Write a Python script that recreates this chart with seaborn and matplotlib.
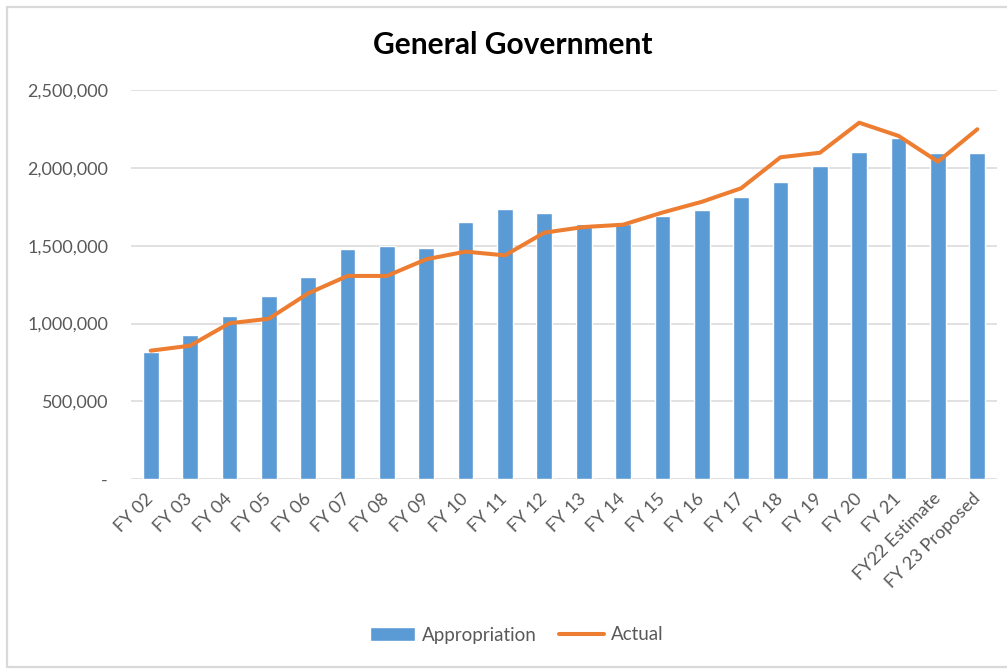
import matplotlib
matplotlib.use('Agg')
import matplotlib.pyplot as plt
import matplotlib.ticker as mticker
from matplotlib.lines import Line2D
import seaborn as sns
import pandas as pd
import numpy as np

years = ["FY 02", "FY 03", "FY 04", "FY 05", "FY 06", "FY 07", "FY 08", "FY 09",
         "FY 10", "FY 11", "FY 12", "FY 13", "FY 14", "FY 15", "FY 16", "FY 17",
         "FY 18", "FY 19", "FY 20", "FY 21", "FY22 Estimate", "FY 23 Proposed"]
appropriation = [819000, 925000, 1049000, 1179000, 1297000, 1477000, 1498000, 1483000,
                 1654000, 1738000, 1710000, 1641000, 1638000, 1691000, 1731000, 1813000,
                 1911000, 2012000, 2102000, 2192000, 2096000, 2096000]
actual = [826000, 858000, 1002000, 1031000, 1194000, 1306000, 1306000, 1413000,
          1462000, 1438000, 1584000, 1620000, 1635000, 1713000, 1782000, 1869000,
          2068000, 2097000, 2290000, 2205000, 2040000, 2248000]

df = pd.DataFrame({"year": years, "Appropriation": appropriation, "Actual": actual})

sns.set_style("white")
plt.rcParams['font.family'] = ['Lato', 'DejaVu Sans']

bar_color = "#5B9BD5"
line_color = "#ED7D31"
grey = "#595959"

fig = plt.figure(figsize=(10.07, 6.69), dpi=100)
ax = fig.add_axes([131 / 1007, 189.7 / 669, (997 - 131) / 1007, (479.3 - 90) / 669])

sns.barplot(data=df, x="year", y="Appropriation", color=bar_color, width=0.4,
            saturation=1, ax=ax, label="Appropriation", zorder=2)
sns.lineplot(x=np.arange(len(years)), y=df["Actual"], color=line_color, linewidth=2.9,
             ax=ax, label="Actual", zorder=3)

ax.set_ylim(0, 2500000)
ax.set_xlim(-0.5, len(years) - 0.5)
ax.yaxis.set_major_locator(mticker.MultipleLocator(500000))
ax.yaxis.set_major_formatter(mticker.FuncFormatter(lambda v, p: "-" if v == 0 else f"{v:,.0f}"))
ax.grid(axis="y", color="#D9D9D9", linewidth=1.1, zorder=0)
ax.set_axisbelow(True)
for s in ax.spines.values():
    s.set_visible(False)
ax.set_xlabel("")
ax.set_ylabel("")
ax.tick_params(axis="y", length=0, pad=16.5, labelsize=13, labelcolor=grey)
ax.tick_params(axis="x", length=0, pad=12, labelsize=13, labelcolor=grey)
ax.set_xticks(range(len(years)))
ax.set_xticklabels(years, rotation=45, ha="right", va="center", rotation_mode="anchor")

ax.get_legend().remove()
handles, labels = ax.get_legend_handles_labels()
order = [labels.index("Appropriation"), labels.index("Actual")]
fig.legend([handles[i] for i in order], [labels[i] for i in order], loc="center",
           bbox_to_anchor=(517 / 1007, 1 - 635 / 669),
           ncol=2, frameon=False, fontsize=13.5, labelcolor=grey,
           handlelength=2.4, handleheight=0.7, columnspacing=1.2, handletextpad=0.35)

fig.text(513 / 1007, 1 - 45 / 669, "General Government", ha="center", va="center",
         fontsize=21.5, fontweight="bold", color="black")

# chart frame: left, top and bottom edges (right edge is cropped off)
border = dict(color="#D9D9D9", linewidth=1.6, transform=fig.transFigure)
fig.lines.append(Line2D([7 / 1007, 7 / 1007], [1 - 7 / 669, 1 - 667 / 669], **border))
fig.lines.append(Line2D([7 / 1007, 1.0], [1 - 7 / 669, 1 - 7 / 669], **border))
fig.lines.append(Line2D([7 / 1007, 1.0], [1 - 667 / 669, 1 - 667 / 669], **border))

fig.savefig("out.png", dpi=100)
